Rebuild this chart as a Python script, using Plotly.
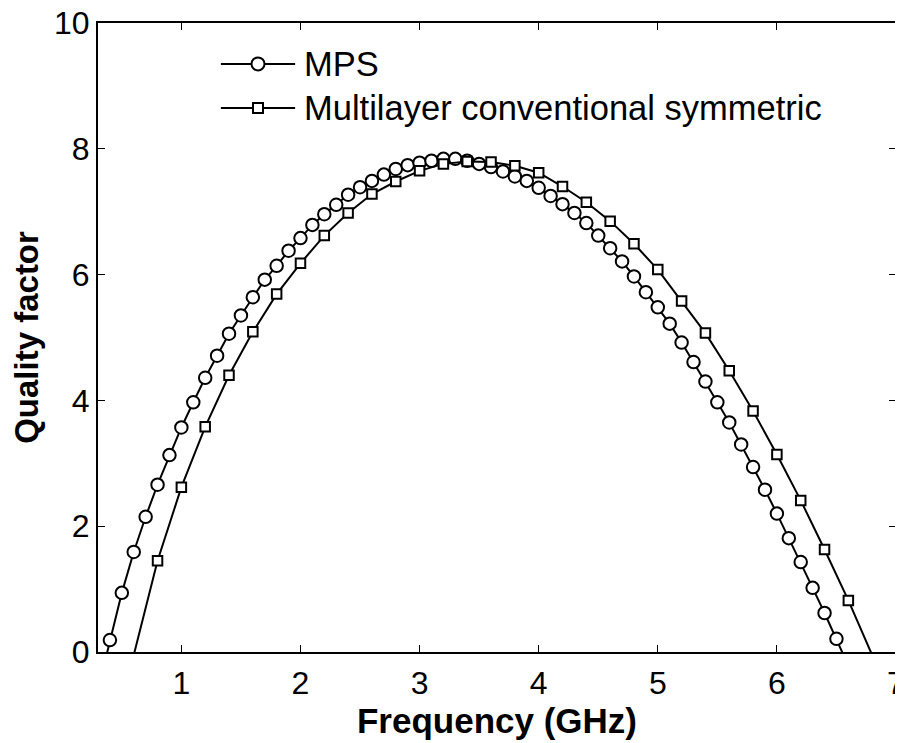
import numpy as np
import plotly.graph_objects as go

# ---- data ----
mps_freq = [round(0.3 + 0.1 * i, 1) for i in range(64)]  # 0.3 .. 6.6 GHz
mps_q = [-0.60, 0.19, 0.94, 1.59, 2.15, 2.66, 3.13, 3.57, 3.97, 4.36,
         4.71, 5.06, 5.35, 5.64, 5.92, 6.14, 6.38, 6.58, 6.79, 6.96,
         7.11, 7.27, 7.39, 7.49, 7.59, 7.68, 7.74, 7.78, 7.81, 7.84,
         7.84, 7.81, 7.76, 7.71, 7.64, 7.56, 7.49, 7.38, 7.25, 7.12,
         6.98, 6.82, 6.62, 6.42, 6.21, 5.97, 5.72, 5.48, 5.22, 4.92,
         4.61, 4.30, 3.97, 3.65, 3.30, 2.94, 2.58, 2.20, 1.81, 1.43,
         1.02, 0.62, 0.21, -0.22]

conv_freq = [round(0.6 + 0.2 * i, 1) for i in range(32)]  # 0.6 .. 6.8 GHz
conv_q = [-0.05, 1.45, 2.62, 3.58, 4.40, 5.09, 5.69, 6.18, 6.62, 6.98,
          7.28, 7.48, 7.65, 7.76, 7.80, 7.79, 7.73, 7.62, 7.40, 7.15,
          6.85, 6.49, 6.08, 5.58, 5.07, 4.47, 3.83, 3.14, 2.41, 1.63,
          0.82, -0.05]

series_names = ["MPS", "Multilayer conventional symmetric"]
x_ticks = [1, 2, 3, 4, 5, 6, 7]
y_ticks = [0, 2, 4, 6, 8, 10]
x_title = "Frequency (GHz)"
y_title = "Quality factor"

FONT = "Liberation Sans, Arial, Helvetica, sans-serif"

fig = go.Figure()

def add_series(xs, ys, symbol, msize):
    xs = np.array(xs)
    ys = np.array(ys)
    fig.add_trace(go.Scatter(x=xs, y=ys, mode="lines",
                             line=dict(color="black", width=2),
                             showlegend=False, hoverinfo="skip"))
    vis = ys >= 0
    fig.add_trace(go.Scatter(x=xs[vis], y=ys[vis], mode="markers",
                             marker=dict(symbol=symbol, size=msize, color="white",
                                         line=dict(color="black", width=2)),
                             showlegend=False))

add_series(mps_freq, mps_q, "circle", 12.5)
add_series(conv_freq, conv_q, "square", 9.5)

# ---- manual legend (MATLAB style) ----
shapes = []
annotations = []
leg_rows = [(0.935, "circle"), (0.865, "square")]
for (yp, sym), name in zip(leg_rows, series_names):
    shapes.append(dict(type="line", xref="paper", yref="paper",
                       x0=0.154, x1=0.247, y0=yp, y1=yp,
                       line=dict(color="black", width=2)))
    half = 6.5 if sym == "circle" else 5
    shapes.append(dict(type="circle" if sym == "circle" else "rect",
                       xref="paper", yref="paper",
                       xsizemode="pixel", ysizemode="pixel",
                       xanchor=0.2005, yanchor=yp,
                       x0=-half, x1=half, y0=-half, y1=half,
                       fillcolor="white", line=dict(color="black", width=2)))
    annotations.append(dict(text=name, xref="paper", yref="paper",
                            x=0.256, y=yp, xanchor="left", yanchor="middle",
                            showarrow=False,
                            font=dict(family=FONT, size=34.5, color="black")))

# page body has an 8px default margin, so the figure is sized to fit
fig.update_layout(
    width=895, height=735,
    margin=dict(l=90, r=7, t=15, b=91),
    paper_bgcolor="white", plot_bgcolor="white",
    shapes=shapes, annotations=annotations,
    showlegend=False,
    font=dict(family=FONT, color="black"),
)

fig.update_xaxes(
    range=[0.3, 7], tickvals=x_ticks, ticktext=[str(v) for v in x_ticks],
    ticks="inside", ticklen=7, tickwidth=1, tickcolor="black",
    showline=True, linecolor="black", linewidth=2, mirror="ticks",
    showgrid=False, zeroline=False, automargin=False,
    ticklabeloverflow="allow",
    tickfont=dict(family=FONT, size=32, color="black"),
    ticklabelstandoff=2,
    title=dict(text="<b>" + x_title + "</b>", standoff=0,
               font=dict(family=FONT, size=35, color="black")),
)
fig.update_yaxes(
    range=[0, 10], tickvals=y_ticks, ticktext=[str(v) for v in y_ticks],
    ticks="inside", ticklen=7, tickwidth=1, tickcolor="black",
    showline=True, linecolor="black", linewidth=2, mirror="ticks",
    showgrid=False, zeroline=False, automargin=False,
    ticklabeloverflow="allow",
    tickfont=dict(family=FONT, size=32, color="black"),
    ticklabelstandoff=0,
    title=dict(text="<b>" + y_title + "</b>", standoff=8,
               font=dict(family=FONT, size=33, color="black")),
)

fig.write_html("out.html")
